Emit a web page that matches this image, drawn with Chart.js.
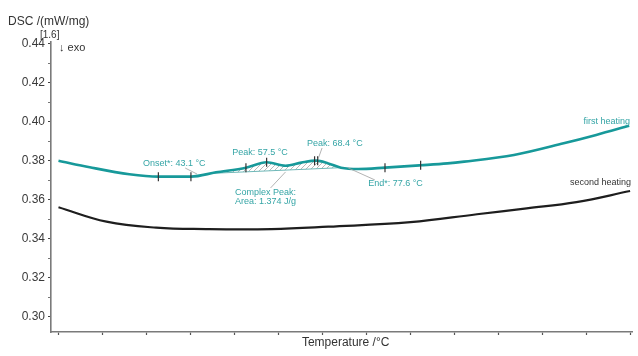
<!DOCTYPE html>
<html>
<head>
<meta charset="utf-8">
<script src="https://cdn.jsdelivr.net/npm/chart.js@4/dist/chart.umd.min.js"></script>
<style>
  html, body { margin: 0; padding: 0; background: #fff; }
  #wrap { width: 638px; height: 356px; }
</style>
</head>
<body>
<div id="wrap"><canvas id="dsc-chart" width="638" height="356"></canvas></div>
<script>
// DSC curves (temperature axis in degC, ticks every 10)
const firstTemps  = [0, 7.1, 16.1, 22.7, 30.1, 35.8, 42.6, 47.3, 51.6, 55.2, 58.6, 61.3, 64.2, 68.1, 74.2, 82.3, 88.4, 92.2, 103.5, 114.8, 122.2, 129.7];
const firstValues = [0.3801, 0.3767, 0.3731, 0.3719, 0.3719, 0.3741, 0.3765, 0.3793, 0.3775, 0.3791, 0.3801, 0.3787, 0.3765, 0.3758, 0.3765, 0.3777, 0.3787, 0.3796, 0.3830, 0.3890, 0.3933, 0.3980];

const secondTemps  = [0, 10.9, 22.2, 33.5, 48.4, 61.3, 80.0, 95.1, 106.4, 117.7, 129.9];
const secondValues = [0.3562, 0.3488, 0.3457, 0.3450, 0.3450, 0.3462, 0.3485, 0.3526, 0.3556, 0.3588, 0.3645];

// evaluation markers on the first heating
const markTemps  = [22.7, 30.1, 42.6, 47.3, 58.2, 58.9, 74.2, 82.3];
const markValues = [0.3719, 0.3719, 0.3765, 0.3793, 0.3801, 0.3801, 0.3765, 0.3777];

// baseline under the complex peak
const baseTemps  = [35.0, 64.2];
const baseValues = [0.3736, 0.3765];

// y tick labels every 0.02, minor every 0.01
const yMin = 0.29215, yMax = 0.4410;
const xMin = -1.7, xMax = 130.4;

const teal = '#17999a';
const tealText = '#35a5a6';

// annotations: [text, temp, value, align, color]
const notes = [
    ['Onset*: 43.1 °C', 26.3, 0.3784, 'center', tealText],
    ['Peak: 57.5 °C', 45.8, 0.3844, 'center', tealText],
    ['Peak: 68.4 °C', 62.8, 0.3887, 'center', tealText],
    ['Complex Peak:', 40.1, 0.3639, 'left', tealText],
    ['Area: 1.374 J/g', 40.1, 0.3590, 'left', tealText],
    ['End*: 77.6 °C', 76.6, 0.3685, 'center', tealText],
    ['first heating', 129.9, 0.4001, 'right', tealText],
    ['second heating', 130.1, 0.3688, 'right', '#333']
];
// leader lines: [t1, v1, t2, v2]
const leaders = [
    [28.8, 0.3763, 31.5, 0.3732],
    [48.2, 0.3661, 51.6, 0.3743],
    [59.9, 0.3866, 59.0, 0.3810],
    [71.9, 0.3702, 65.8, 0.3764]
];

function makeHatch() {
    const c = document.createElement('canvas');
    c.width = 5; c.height = 5;
    const g = c.getContext('2d');
    g.strokeStyle = '#9a9a9a';
    g.lineWidth = 0.7;
    g.beginPath();
    g.moveTo(0, 5); g.lineTo(5, 0);
    g.moveTo(-1, 1); g.lineTo(1, -1);
    g.moveTo(4, 6); g.lineTo(6, 4);
    g.stroke();
    return g.createPattern(c, 'repeat');
}

const annotationPlugin = {
    id: 'dscNotes',
    afterDatasetsDraw(chart) {
        const ctx = chart.ctx;
        const xs = chart.scales.x, ys = chart.scales.y;
        ctx.save();
        ctx.strokeStyle = '#a0a0a0';
        ctx.lineWidth = 0.8;
        leaders.forEach(l => {
            ctx.beginPath();
            ctx.moveTo(xs.getPixelForValue(l[0]), ys.getPixelForValue(l[1]));
            ctx.lineTo(xs.getPixelForValue(l[2]), ys.getPixelForValue(l[3]));
            ctx.stroke();
        });
        ctx.font = '9px "Liberation Sans", Arial, sans-serif';
        ctx.textBaseline = 'middle';
        notes.forEach(n => {
            ctx.fillStyle = n[4];
            ctx.textAlign = n[3];
            ctx.fillText(n[0], xs.getPixelForValue(n[1]), ys.getPixelForValue(n[2]));
        });

        // axis captions
        ctx.fillStyle = '#333';
        ctx.font = '12px "Liberation Sans", Arial, sans-serif';
        ctx.textAlign = 'left';
        ctx.fillText('DSC /(mW/mg)', 8, 22);
        ctx.font = '10px "Liberation Sans", Arial, sans-serif';
        ctx.fillText('[1.6]', 40, 35);
        ctx.font = '11px "Liberation Sans", Arial, sans-serif';
        ctx.fillText('↓ exo', 59, 48);
        ctx.font = '12px "Liberation Sans", Arial, sans-serif';
        ctx.textAlign = 'center';
        ctx.fillText('Temperature /°C', (chart.chartArea.left + chart.chartArea.right) / 2 + 4, 343);
        ctx.restore();
    }
};

const ctx = document.getElementById('dsc-chart').getContext('2d');

new Chart(ctx, {
    type: 'line',
    data: {
        datasets: [
            {
                label: 'first heating',
                data: firstTemps.map((t, i) => ({x: t, y: firstValues[i]})),
                borderColor: teal,
                borderWidth: 2.6,
                pointRadius: 0,
                cubicInterpolationMode: 'monotone',
                fill: false,
                order: 1
            },
            {
                label: 'second heating',
                data: secondTemps.map((t, i) => ({x: t, y: secondValues[i]})),
                borderColor: '#1e1e1e',
                borderWidth: 2.2,
                pointRadius: 0,
                tension: 0.4,
                fill: false,
                order: 1
            },
            {
                label: 'baseline',
                data: baseTemps.map((t, i) => ({x: t, y: baseValues[i]})),
                borderColor: '#6fb8b8',
                borderWidth: 1,
                pointRadius: 0,
                backgroundColor: makeHatch(),
                fill: 0,
                order: 2
            },
            {
                label: 'markers',
                type: 'scatter',
                data: markTemps.map((t, i) => ({x: t, y: markValues[i]})),
                showLine: false,
                pointStyle: 'line',
                rotation: 90,
                pointRadius: 4.5,
                borderColor: '#333',
                borderWidth: 1.2,
                order: 0
            }
        ]
    },
    options: {
        responsive: false,
        animation: false,
        events: [],
        layout: { padding: { top: 42, right: 2, left: 0, bottom: 0 } },
        plugins: {
            legend: { display: false },
            tooltip: { enabled: false },
            title: { display: false }
        },
        scales: {
            x: {
                type: 'linear',
                min: xMin,
                max: xMax,
                border: { color: '#7a7a7a', width: 1.6 },
                grid: { drawOnChartArea: false, tickLength: 3, color: '#555', tickWidth: 1.2 },
                ticks: { stepSize: 10, includeBounds: false, display: false },
                afterFit(scale) { scale.height = 24; }
            },
            y: {
                type: 'linear',
                min: yMin,
                max: yMax,
                border: { color: '#7a7a7a', width: 1.6 },
                grid: {
                    drawOnChartArea: false,
                    tickLength: 3,
                    tickWidth: 1.2,
                    tickColor: c => (Math.round(c.tick.value * 100) % 2 === 0 ? '#444' : '#777')
                },
                ticks: {
                    stepSize: 0.01,
                    includeBounds: false,
                    autoSkip: false,
                    padding: 3,
                    color: '#3a3a3a',
                    font: { family: '"Liberation Sans", Arial, sans-serif', size: 12 },
                    callback: v => (Math.round(v * 100) % 2 === 0 ? v.toFixed(2) : '')
                },
                afterFit(scale) { scale.width = 51; }
            }
        }
    },
    plugins: [annotationPlugin]
});
</script>
</body>
</html>
